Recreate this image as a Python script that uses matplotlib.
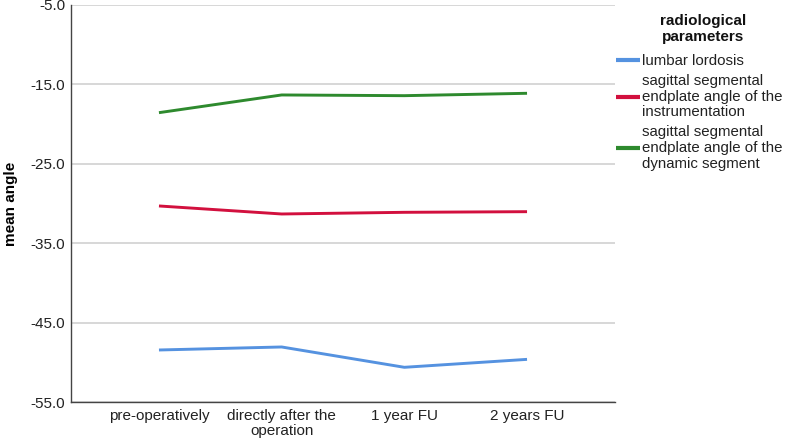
import matplotlib
matplotlib.use("Agg")
import matplotlib.pyplot as plt

categories = ["pre-operatively", "directly after the\noperation", "1 year FU", "2 years FU"]
series_names = ["lumbar lordosis",
                "sagittal segmental\nendplate angle of the\ninstrumentation",
                "sagittal segmental\nendplate angle of the\ndynamic segment"]
lumbar = [-48.45, -48.07, -50.63, -49.63]
instrumentation = [-30.31, -31.32, -31.11, -31.03]
dynamic = [-18.56, -16.33, -16.42, -16.12]
colors = ["#5592e0", "#d2103e", "#2e8a2e"]
yticks = [-5.0, -15.0, -25.0, -35.0, -45.0, -55.0]

plt.rcParams['font.family'] = ['Liberation Sans', 'DejaVu Sans']

fig = plt.figure(figsize=(7.87, 4.44), dpi=100)
ax = fig.add_axes([71/787, 1-402/444, (615-71)/787, (402-5)/444])

x = list(range(len(categories)))
for vals, name, c in zip([lumbar, instrumentation, dynamic], series_names, colors):
    ax.plot(x, vals, color=c, lw=2.1, label=name, solid_capstyle='butt')

ax.set_ylim(-55, -5)
ax.set_xlim(-0.717, 3.717)
ax.set_yticks(yticks)
ax.set_yticklabels([f"{v:.1f}" for v in yticks])
ax.set_xticks(x)
ax.set_xticklabels(categories, linespacing=1.1)
ax.grid(axis='y', color='#d4d4d4', lw=1.3)
ax.set_axisbelow(True)
for s in ['top', 'right']:
    ax.spines[s].set_visible(False)
for s in ['left', 'bottom']:
    ax.spines[s].set_color('#444444')
    ax.spines[s].set_linewidth(1.0)
ax.tick_params(axis='both', length=0, labelsize=11, colors='#222222')
ax.tick_params(axis='x', pad=5)
ax.tick_params(axis='y', pad=4)
ax.set_ylabel("mean angle", fontsize=11, fontweight='bold', labelpad=9)

fig.text(703/787, 1-29/444, "radiological\nparameters", ha='center', va='center',
         fontsize=11, fontweight='bold', color='#111111', linespacing=1.25)

leg = fig.legend(loc='upper left', bbox_to_anchor=(616/787, 1-54/444), frameon=False,
                 fontsize=10.8,
                 handlelength=1.6, handletextpad=0.15, labelspacing=0.38,
                 borderaxespad=0, borderpad=0)
for t in leg.get_texts():
    t.set_color('#222222')
    t.set_linespacing(1.17)
for l in leg.get_lines():
    l.set_linewidth(3)

fig.savefig("out.png", dpi=100)
